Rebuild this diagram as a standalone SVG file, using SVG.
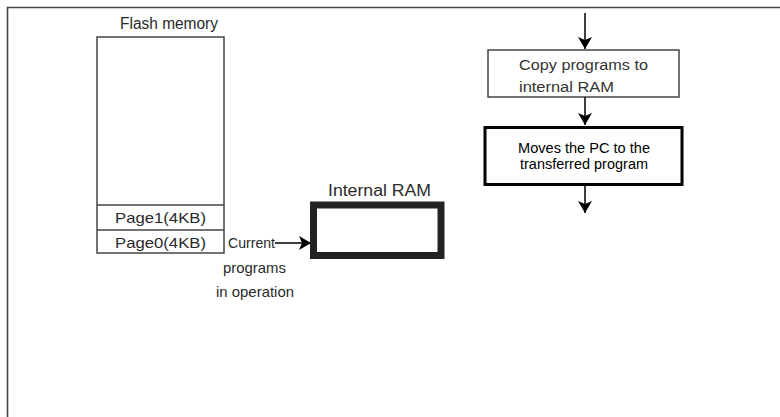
<svg xmlns="http://www.w3.org/2000/svg" width="780" height="417" viewBox="0 0 780 417">
<defs>
<style>
text{font-family:"Liberation Sans",Arial,sans-serif;fill:#2a2a2a}
.lbl{font-size:16px}
.pg{font-size:15px}
.sm{font-size:14.5px}
.cp{font-size:15.5px;fill:#333}
.mv{font-size:14px;fill:#000}
.thin{fill:#fff;stroke:#444;stroke-width:1.5}
.conn{stroke:#000;stroke-width:1.5;fill:none}
</style>
<marker id="ah" viewBox="0 0 12 14" refX="12" refY="7" markerWidth="12" markerHeight="14" markerUnits="userSpaceOnUse" orient="auto">
<path d="M0,0 L12,7 L0,14 L3,7 Z" fill="#000"/>
</marker>
</defs>
<rect width="780" height="417" fill="#fff"/>
<path d="M7.5,420 V7.5 H785" fill="none" stroke="#444" stroke-width="1.6"/>
<g id="flash">
<text class="lbl" x="120" y="29" textLength="98" lengthAdjust="spacingAndGlyphs">Flash memory</text>
<rect class="thin" x="97" y="37" width="127" height="216"/>
<line x1="97" y1="205" x2="224" y2="205" stroke="#444" stroke-width="1.5"/>
<line x1="97" y1="230" x2="224" y2="230" stroke="#444" stroke-width="1.5"/>
<text class="pg" x="115" y="223" textLength="91" lengthAdjust="spacingAndGlyphs">Page1(4KB)</text>
<text class="pg" x="115" y="248" textLength="91" lengthAdjust="spacingAndGlyphs">Page0(4KB)</text>
</g>
<g id="current">
<text class="sm" x="228" y="248" textLength="47" lengthAdjust="spacingAndGlyphs">Current</text>
<text class="sm" x="223" y="273" textLength="63" lengthAdjust="spacingAndGlyphs">programs</text>
<text class="sm" x="216" y="297" textLength="78" lengthAdjust="spacingAndGlyphs">in operation</text>
</g>
<g id="ram">
<text class="lbl" x="328" y="196" textLength="103" lengthAdjust="spacingAndGlyphs">Internal RAM</text>
<rect x="313.5" y="205" width="127.5" height="50.5" fill="#fff" stroke="#222" stroke-width="7"/>
</g>
<g id="copy">
<rect class="thin" x="488" y="50" width="191" height="47"/>
<text class="cp" x="519" y="70" textLength="129" lengthAdjust="spacingAndGlyphs">Copy programs to</text>
<text class="cp" x="519" y="92" textLength="95" lengthAdjust="spacingAndGlyphs">internal RAM</text>
</g>
<g id="moves">
<rect x="485" y="127.5" width="197" height="57" fill="#fff" stroke="#000" stroke-width="3"/>
<text class="mv" x="518" y="153" textLength="132" lengthAdjust="spacingAndGlyphs">Moves the PC to the</text>
<text class="mv" x="520" y="169" textLength="128" lengthAdjust="spacingAndGlyphs">transferred program</text>
</g>
<g id="connectors">
<line class="conn" x1="275" y1="243" x2="311" y2="243" marker-end="url(#ah)"/>
<line class="conn" x1="585" y1="13" x2="585" y2="49" marker-end="url(#ah)"/>
<line class="conn" x1="585" y1="97" x2="585" y2="125" marker-end="url(#ah)"/>
<line class="conn" x1="585" y1="186" x2="585" y2="213" marker-end="url(#ah)"/>
</g>
</svg>
